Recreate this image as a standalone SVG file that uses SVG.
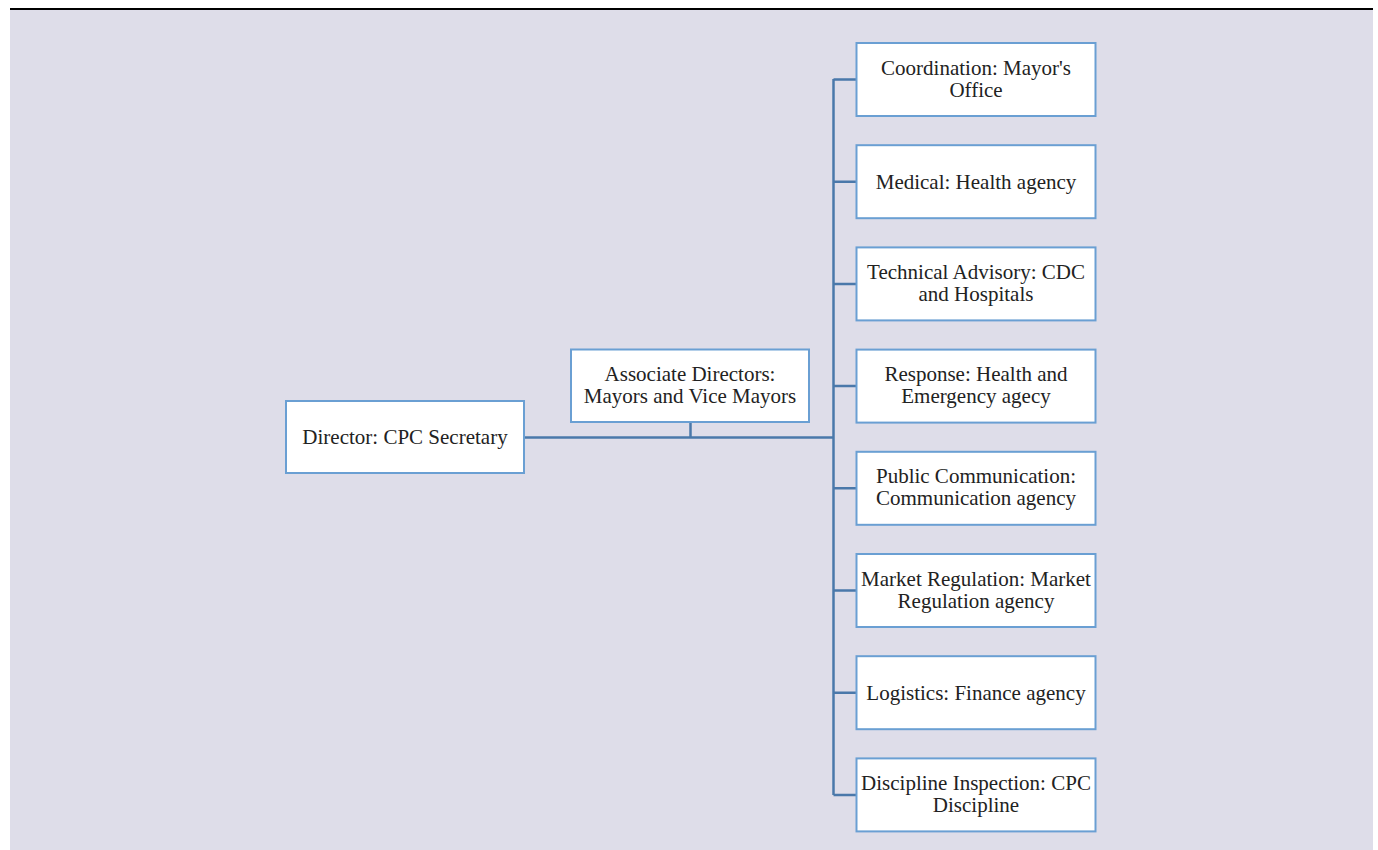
<svg xmlns="http://www.w3.org/2000/svg" width="1378" height="850" viewBox="0 0 1378 850">
<style>
.bg{fill:#dedde9}
.box{fill:#ffffff;stroke:#6a9fd3;stroke-width:2}
.t{font-family:"Liberation Serif","Times New Roman",serif;font-size:21px;fill:#222222;text-anchor:middle}
.c{fill:none;stroke:#4a78aa;stroke-width:2.5}
</style>
<rect class="bg" x="10" y="10" width="1363" height="840"/>
<rect x="10" y="8" width="1363" height="2" fill="#000000"/>
<g id="connectors">
<path class="c" d="M524 437.5H833.5"/>
<path class="c" d="M690.5 422V437.5"/>
<path class="c" d="M833.5 79V795"/>
<path class="c" d="M833.5 79.5H856M833.5 181.7H856M833.5 283.9H856M833.5 386.1H856M833.5 488.3H856M833.5 590.5H856M833.5 692.7H856M833.5 794.9H856"/>
</g>
<g id="director">
<rect class="box" x="286" y="401" width="238" height="72"/>
<text class="t" x="405" y="444">Director: CPC Secretary</text>
</g>
<g id="associate">
<rect class="box" x="571" y="349.5" width="238" height="72.5"/>
<text class="t" x="690" y="381">Associate Directors:</text>
<text class="t" x="690" y="403">Mayors and Vice Mayors</text>
</g>
<g id="coordination">
<rect class="box" x="856.5" y="43" width="239" height="73"/>
<text class="t" x="976" y="74.5">Coordination: Mayor's</text>
<text class="t" x="976" y="96.5">Office</text>
</g>
<g id="medical">
<rect class="box" x="856.5" y="145.2" width="239" height="73"/>
<text class="t" x="976" y="188.7">Medical: Health agency</text>
</g>
<g id="technical">
<rect class="box" x="856.5" y="247.4" width="239" height="73"/>
<text class="t" x="976" y="279">Technical Advisory: CDC</text>
<text class="t" x="976" y="301">and Hospitals</text>
</g>
<g id="response">
<rect class="box" x="856.5" y="349.6" width="239" height="73"/>
<text class="t" x="976" y="381.2">Response: Health and</text>
<text class="t" x="976" y="403.2">Emergency agecy</text>
</g>
<g id="public">
<rect class="box" x="856.5" y="451.8" width="239" height="73"/>
<text class="t" x="976" y="483.4">Public Communication:</text>
<text class="t" x="976" y="505.4">Communication agency</text>
</g>
<g id="market">
<rect class="box" x="856.5" y="554" width="239" height="73"/>
<text class="t" x="976" y="585.6">Market Regulation: Market</text>
<text class="t" x="976" y="607.6">Regulation agency</text>
</g>
<g id="logistics">
<rect class="box" x="856.5" y="656.2" width="239" height="73"/>
<text class="t" x="976" y="699.7">Logistics: Finance agency</text>
</g>
<g id="discipline">
<rect class="box" x="856.5" y="758.4" width="239" height="73"/>
<text class="t" x="976" y="790">Discipline Inspection: CPC</text>
<text class="t" x="976" y="812">Discipline</text>
</g>
</svg>
